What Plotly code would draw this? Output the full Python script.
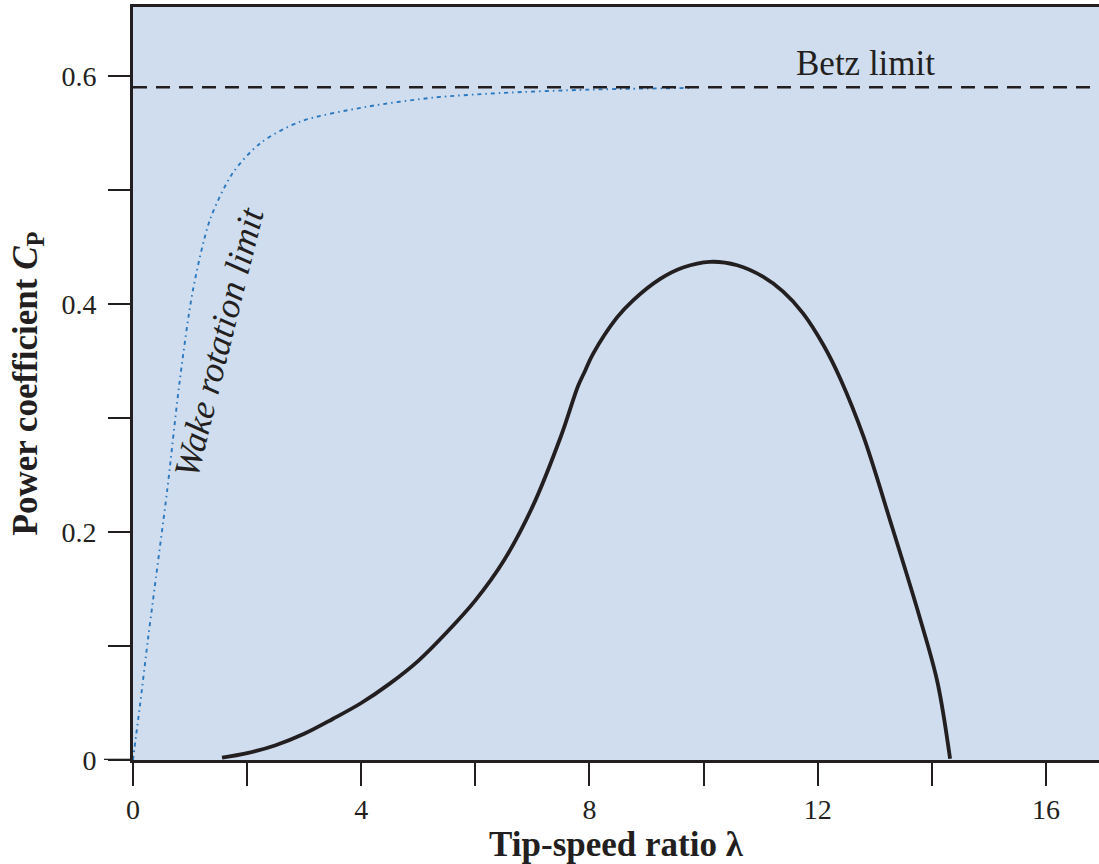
import plotly.graph_objects as go

# ---- data ----
lam_cp = [1.56, 2.0, 2.5, 3.0, 3.5, 4.0, 4.5, 5.0, 5.5, 6.0, 6.5, 7.0, 7.5, 7.8, 7.92,
          8.06, 8.48, 8.76, 9.24, 9.64, 10.11, 10.59, 11.04, 11.39, 11.74, 12.1, 12.4,
          12.8, 13.3, 13.8, 14.1, 14.32]
cp_rotor = [0.002, 0.006, 0.013, 0.023, 0.036, 0.05, 0.067, 0.087, 0.112, 0.14, 0.175, 0.222, 0.284, 0.328, 0.341,
            0.356, 0.388, 0.403, 0.422, 0.432, 0.437, 0.434, 0.424, 0.411, 0.392, 0.364, 0.334,
            0.284, 0.205, 0.123, 0.068, 0.001]

lam_wake = [0, 0.05, 0.12, 0.26, 0.35, 0.6, 0.82, 1.05, 1.35, 1.75, 2.23, 2.93, 4.1, 5.26, 6.43, 8.0, 9.76]
cp_wake = [0, 0.02, 0.047, 0.105, 0.14, 0.237, 0.333, 0.412, 0.474, 0.515, 0.541, 0.56, 0.573,
           0.581, 0.585, 0.588, 0.5895]

BETZ = 0.59

INK = "#231F20"
SERIF = "Liberation Serif"

fig = go.Figure()
fig.add_trace(go.Scatter(x=lam_wake, y=cp_wake, mode="lines",
                         line=dict(color="#2B78BE", width=1.9, dash="4px,4px,1.5px,4px", shape="spline", smoothing=0.8),
                         hoverinfo="skip", showlegend=False))
fig.add_trace(go.Scatter(x=lam_cp, y=cp_rotor, mode="lines",
                         line=dict(color=INK, width=3.8, shape="spline", smoothing=1.0),
                         showlegend=False))

fig.add_shape(type="line", xref="x domain", yref="y", x0=0, x1=1, y0=BETZ, y1=BETZ,
              line=dict(color=INK, width=2.5, dash="14px,9px"))
# slightly longer tick at the origin (frame detail of the reference)
fig.add_shape(type="line", xref="paper", yref="y", x0=-0.03, x1=0, y0=0, y1=0,
              line=dict(color=INK, width=2.6))

fig.add_annotation(x=12.83, y=0.611, text="Betz limit", showarrow=False,
                   font=dict(family=SERIF, size=35, color=INK))
fig.add_annotation(x=1.5, y=0.366, text="<i>Wake rotation limit</i>", showarrow=False,
                   textangle=-76, font=dict(family=SERIF, size=36, color=INK))

fig.update_layout(
    width=1099, height=864,
    margin=dict(l=133, r=0, t=7, b=104),
    paper_bgcolor="white", plot_bgcolor="#CFDDEE",
    font=dict(family=SERIF, color=INK),
    xaxis=dict(range=[0, 16.93], tick0=0, dtick=4,
               ticks="outside", ticklen=23, tickwidth=2.4, tickcolor=INK,
               minor=dict(dtick=2, ticks="outside", ticklen=23, tickwidth=2.4, tickcolor=INK, showgrid=False),
               showline=True, linewidth=2.6, linecolor=INK, mirror=True,
               showgrid=False, zeroline=False,
               tickfont=dict(family=SERIF, size=28, color=INK),
               title=dict(text="<b>Tip-speed ratio λ</b>", standoff=6,
                          font=dict(family=SERIF, size=35, color=INK))),
    yaxis=dict(range=[0, 0.6605], tick0=0, dtick=0.2, tickformat="~g",
               ticks="outside", ticklen=22, tickwidth=2.4, tickcolor=INK,
               minor=dict(dtick=0.1, ticks="outside", ticklen=22, tickwidth=2.4, tickcolor=INK, showgrid=False),
               showline=True, linewidth=2.6, linecolor=INK,
               showgrid=False, zeroline=False, ticklabelstandoff=6,
               tickfont=dict(family=SERIF, size=28, color=INK),
               title=dict(text="<b>Power coefficient <i>C</i><sub>P</sub></b>", standoff=14,
                          font=dict(family=SERIF, size=35, color=INK))),
)

fig.write_html("out.html")
